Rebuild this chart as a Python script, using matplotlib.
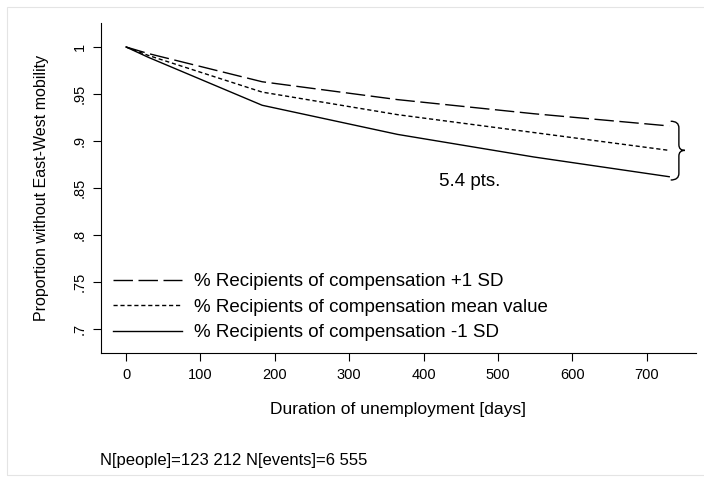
import matplotlib
matplotlib.use("Agg")
import matplotlib.pyplot as plt
from matplotlib.path import Path
from matplotlib.patches import PathPatch, Rectangle

plt.rcParams["font.family"] = ["Liberation Sans", "DejaVu Sans"]

# survival curves
days = [0, 30, 183, 365, 548, 730]
plus_sd = [1.0, 0.993, 0.963, 0.944, 0.929, 0.916]
mean_val = [1.0, 0.991, 0.952, 0.928, 0.909, 0.890]
minus_sd = [1.0, 0.989, 0.938, 0.907, 0.883, 0.862]

labels = ["% Recipients of compensation +1 SD",
          "% Recipients of compensation mean value",
          "% Recipients of compensation -1 SD"]
xticks = [0, 100, 200, 300, 400, 500, 600, 700]
yticks = [0.7, 0.75, 0.8, 0.85, 0.9, 0.95, 1.0]
ytick_labels = [".7", ".75", ".8", ".85", ".9", ".95", "1"]

fig = plt.figure(figsize=(7.04, 4.79), dpi=100)
# faint outer frame of the graph region
fig.patches.append(Rectangle((7 / 704, 4 / 479), 1.0, 1 - 11 / 479,
                             transform=fig.transFigure, fill=False,
                             edgecolor="#e4e4e4", linewidth=0.8))
ax = fig.add_axes([101 / 704, 1 - 353 / 479, 595 / 704, 330 / 479])

ax.plot(days, plus_sd, color="black", linewidth=1.0, dashes=(14, 4), label=labels[0])
ax.plot(days, mean_val, color="black", linewidth=1.0, dashes=(3, 2), label=labels[1])
ax.plot(days, minus_sd, color="black", linewidth=1.0, label=labels[2])

ax.set_xlim(-33.6, 766)
ax.set_ylim(0.6745, 1.0255)
ax.set_xticks(xticks)
ax.set_yticks(yticks)
ax.set_yticklabels(ytick_labels, rotation=90, va="center")
ax.tick_params(axis="both", labelsize=10.5, length=6, width=0.8, color="black")
ax.tick_params(axis="y", pad=4)
ax.tick_params(axis="x", pad=5)
for s in ["top", "right"]:
    ax.spines[s].set_visible(False)
for s in ["left", "bottom"]:
    ax.spines[s].set_linewidth(0.8)

ax.set_xlabel("Duration of unemployment [days]", fontsize=12.5, labelpad=14)
ax.set_ylabel("Proportion without East-West mobility", fontsize=11.5)
ax.yaxis.set_label_coords(-0.088, 0.5)

# curly brace spanning the gap at the end
xb, xt = 743, 751
top, bot, mid = 0.921, 0.8585, mean_val[-1]
verts = [(732, top), (743, top), (xb, top - 0.007),
         (xb, mid + 0.006), (xb, mid), (xt, mid),
         (xb, mid), (xb, mid - 0.006),
         (xb, bot + 0.007), (743, bot), (732, bot)]
codes = [Path.MOVETO, Path.CURVE3, Path.CURVE3,
         Path.LINETO, Path.CURVE3, Path.CURVE3,
         Path.CURVE3, Path.CURVE3,
         Path.LINETO, Path.CURVE3, Path.CURVE3]
ax.add_patch(PathPatch(Path(verts, codes), fill=False, linewidth=1.0, edgecolor="black"))
ax.text(462, 0.857, "5.4 pts.", fontsize=13.5, ha="center", va="center")

ax.legend(loc="lower left", bbox_to_anchor=(0.02, 0.035), frameon=False, fontsize=13.5,
          handlelength=3.7, handletextpad=0.6, labelspacing=0.45,
          borderaxespad=0.0, borderpad=0.0)

fig.text(100 / 704, 1 - 460 / 479, "N[people]=123 212 N[events]=6 555",
         fontsize=12, ha="left", va="center")

fig.savefig("out.png", dpi=100)
